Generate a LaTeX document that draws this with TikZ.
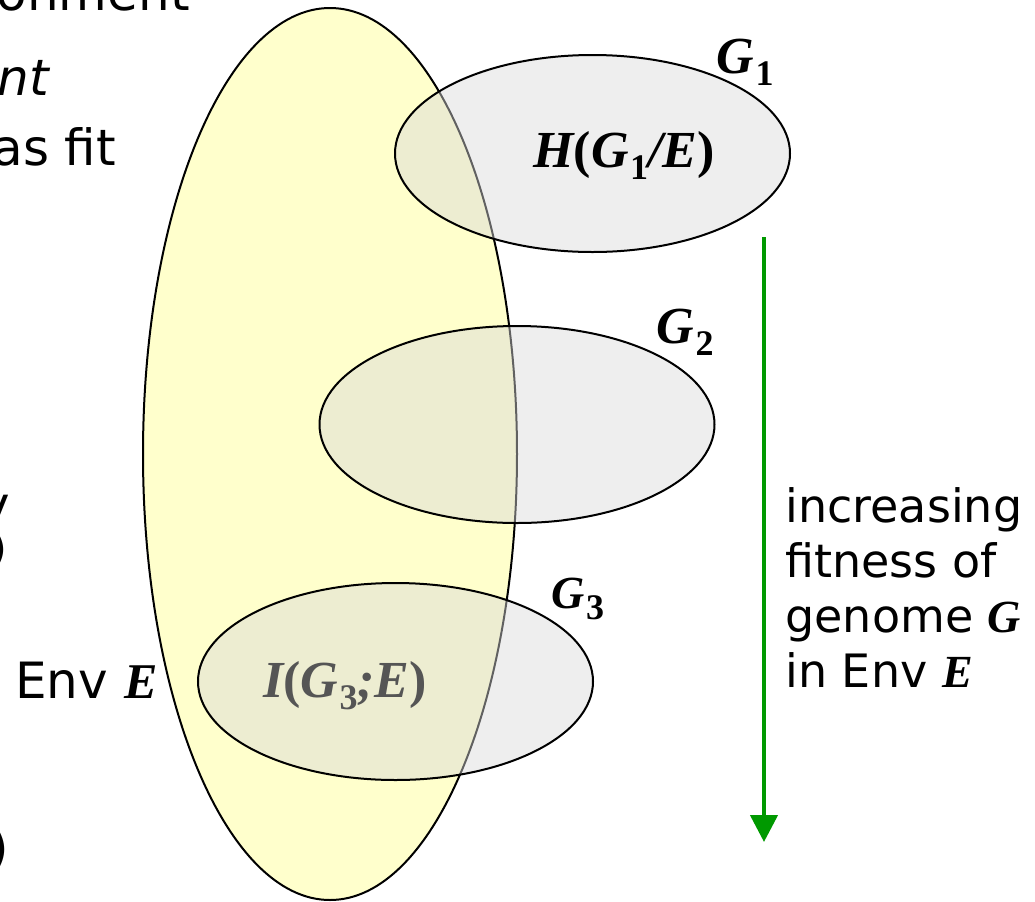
\documentclass[tikz,border=0pt]{standalone}
\usepackage{fontspec}
\setmainfont{Liberation Serif}
\newfontfamily\comicfont{DejaVu Sans}
\newfontfamily\varfont{Liberation Serif}
\usetikzlibrary{shapes.geometric,arrows.meta}
\definecolor{envyellow}{HTML}{FFFFCC}
\definecolor{genomegray}{HTML}{D9D9D9}
\definecolor{fitgreen}{HTML}{009900}
\definecolor{infogray}{HTML}{555555}
\newcommand\bivar[1]{{\varfont\bfseries\itshape #1}}
\newcommand\gsub[1]{G\kern.03em\raisebox{-.24em}{\upshape\fontsize{18}{18}\selectfont #1}}
\begin{document}
\begin{tikzpicture}[x=0.5pt,y=-0.5pt,
  env/.style={draw,ellipse,line width=1pt,fill=envyellow,minimum width=187pt,minimum height=446pt,inner sep=0pt},
  genome/.style={draw,ellipse,line width=1pt,fill=genomegray,fill opacity=0.45,minimum width=197.5pt,minimum height=98.5pt,inner sep=0pt},
  glabel/.style={anchor=base west,inner sep=0pt,font=\fontsize{26}{30}\selectfont\bfseries\itshape},
  measure/.style={anchor=base,inner sep=0pt,font=\fontsize{26}{30}\selectfont\bfseries\itshape},
  sidetext/.style={anchor=base west,inner sep=0pt,font=\fontsize{25}{35}\selectfont\comicfont},
  note/.style={anchor=base west,inner sep=0pt,align=left,font=\fontsize{23}{27.5}\selectfont\comicfont},
  fitarrow/.style={draw=fitgreen,line width=2.2pt,-{Triangle[width=13.5pt,length=13.5pt]}}]
\useasboundingbox (0,0) rectangle (1035,901);
% environment and genomes
\node[env] (env) at (330,454) {};
\foreach \n/\x/\y in {g1/592.5/153.5,g2/517/424.5,g3/395.5/681.5}
  \node[genome] (\n) at (\x,\y) {};
\node[glabel] (lg1) at (716,73) {\gsub{1}};
\node[glabel] (lg2) at (656,343) {\gsub{2}};
\node[glabel,font=\fontsize{23}{27}\selectfont\bfseries\itshape] (lg3) at (551,608) {\gsub{3}};
\node[measure] (cond) at (624,167) {H\upshape(\itshape\gsub{1}/E\upshape)};
\node[measure,text=infogray] (info) at (345,697) {I\upshape(\itshape\gsub{3};E\upshape)};
% left margin text, cut by the page edge
\node[sidetext,anchor=base east] (t0) at (190,10) {ronment};
\node[sidetext,font=\fontsize{25}{35}\selectfont\comicfont\itshape] (t1) at (-3,95) {nt};
\node[sidetext] (t2) at (-8,165) {as fit};
\node[sidetext,anchor=base east] (t3) at (10,522) {y};
\node[sidetext,anchor=base east,font=\fontsize{20}{24}\selectfont\comicfont] (t4) at (8,562) {)};
\node[sidetext] (envlab) at (15,698) {Env \bivar{E}};
\node[sidetext,anchor=base east] (t5) at (9,865) {)};
% fitness arrow
\coordinate (ftop) at (764,237);
\coordinate (fbot) at (764,842);
\draw[fitarrow] (ftop) -- (fbot);
\node[note] (fit) at (785,687) {increasing\\fitness of\\genome \bivar{G}\\in Env \bivar{E}};
\end{tikzpicture}
\end{document}
